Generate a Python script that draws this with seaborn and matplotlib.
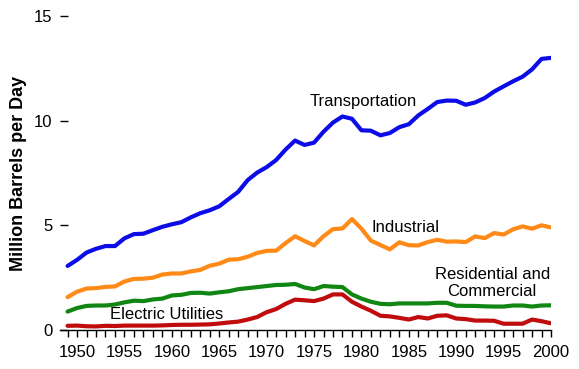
import numpy as np
import pandas as pd
import seaborn as sns
import matplotlib
import matplotlib.pyplot as plt

matplotlib.use('Agg')

# =================================== DATA ===================================

years = list(range(1949, 2001))

transportation = [3.06, 3.35, 3.70, 3.88, 4.01, 4.01, 4.38, 4.58, 4.60, 4.77,
                  4.93, 5.05, 5.15, 5.38, 5.58, 5.72, 5.91, 6.26, 6.60, 7.16,
                  7.52, 7.78, 8.12, 8.62, 9.05, 8.84, 8.95, 9.47, 9.91, 10.20,
                  10.09, 9.54, 9.52, 9.30, 9.41, 9.69, 9.83, 10.25, 10.56, 10.89,
                  10.96, 10.95, 10.76, 10.87, 11.08, 11.39, 11.64, 11.88, 12.10, 12.45,
                  12.95, 13.00]

industrial = [1.57, 1.83, 1.98, 2.00, 2.06, 2.08, 2.32, 2.44, 2.45, 2.50,
              2.65, 2.70, 2.70, 2.80, 2.87, 3.07, 3.17, 3.36, 3.38, 3.50,
              3.68, 3.78, 3.79, 4.15, 4.48, 4.25, 4.04, 4.48, 4.82, 4.85,
              5.30, 4.84, 4.27, 4.06, 3.85, 4.19, 4.05, 4.04, 4.20, 4.31,
              4.22, 4.23, 4.20, 4.47, 4.39, 4.63, 4.56, 4.81, 4.95, 4.84,
              5.00, 4.90]

residential_commercial = [0.88, 1.05, 1.15, 1.17, 1.17, 1.22, 1.32, 1.40, 1.38, 1.46,
                          1.50, 1.65, 1.68, 1.77, 1.78, 1.74, 1.80, 1.85, 1.95, 2.00,
                          2.05, 2.10, 2.15, 2.16, 2.20, 2.03, 1.95, 2.10, 2.07, 2.05,
                          1.70, 1.50, 1.35, 1.25, 1.23, 1.27, 1.27, 1.27, 1.27, 1.30,
                          1.30, 1.16, 1.15, 1.15, 1.13, 1.12, 1.12, 1.17, 1.17, 1.12,
                          1.17, 1.18]

electric_utilities = [0.20, 0.21, 0.18, 0.17, 0.20, 0.19, 0.21, 0.21, 0.21, 0.21,
                      0.22, 0.24, 0.25, 0.25, 0.26, 0.27, 0.31, 0.36, 0.40, 0.50,
                      0.62, 0.85, 1.00, 1.25, 1.45, 1.42, 1.38, 1.50, 1.70, 1.70,
                      1.35, 1.12, 0.92, 0.68, 0.65, 0.58, 0.50, 0.62, 0.55, 0.68,
                      0.70, 0.55, 0.52, 0.45, 0.45, 0.44, 0.30, 0.30, 0.30, 0.50,
                      0.42, 0.32]

sectors = ['Transportation', 'Industrial', 'Residential and\nCommercial', 'Electric Utilities']
colors = ['#0c0ce8', '#ff8a18', '#128612', '#c00c0c']
x_ticks = list(range(1950, 2001, 5))
y_ticks = [0, 5, 10, 15]

# =================================== PLOT ===================================

df = pd.DataFrame({'Year': years * 4,
                   'Value': transportation + industrial + residential_commercial + electric_utilities,
                   'Sector': sum([[s] * len(years) for s in sectors], [])})

sns.set_style('white')
plt.rcParams['font.family'] = ['Liberation Sans', 'DejaVu Sans']
plt.rcParams['text.color'] = 'black'
plt.rcParams['axes.labelcolor'] = 'black'
plt.rcParams['xtick.color'] = 'black'
plt.rcParams['ytick.color'] = 'black'

fig = plt.figure(figsize=(5.79, 3.69), dpi=100)
ax = fig.add_axes([60 / 579, 1 - 330 / 369, (551 - 60) / 579, (330 - 16) / 369])

sns.lineplot(data=df, x='Year', y='Value', hue='Sector', palette=colors,
             linewidth=3, legend=False, ax=ax)

ax.set_xlim(1948.2, 2000)
ax.set_ylim(0, 15)

for side in ['top', 'right', 'left']:
    ax.spines[side].set_visible(False)
ax.spines['bottom'].set_color('black')
ax.spines['bottom'].set_linewidth(1)

ax.set_xticks(x_ticks)
ax.set_xticks(years, minor=True)
ax.set_yticks(y_ticks)
ax.tick_params(axis='x', which='both', direction='out', length=5, width=1,
               labelsize=12, pad=6, bottom=True)
ax.tick_params(axis='y', which='major', direction='in', length=6, width=1,
               labelsize=12, pad=5.5, left=True)

ax.set_xlabel('')
ax.set_ylabel('Million Barrels per Day', fontsize=13, fontweight='bold', labelpad=5)

ax.text(1980.2, 10.9, 'Transportation', fontsize=12, ha='center', va='center')
ax.text(1984.6, 4.88, 'Industrial', fontsize=12, ha='center', va='center')
ax.text(1993.8, 2.25, 'Residential and\nCommercial', fontsize=12, ha='center', va='center',
        linespacing=1.1)
ax.text(1959.4, 0.72, 'Electric Utilities', fontsize=12, ha='center', va='center')

fig.savefig('out.png', dpi=100)
plt.close('all')
